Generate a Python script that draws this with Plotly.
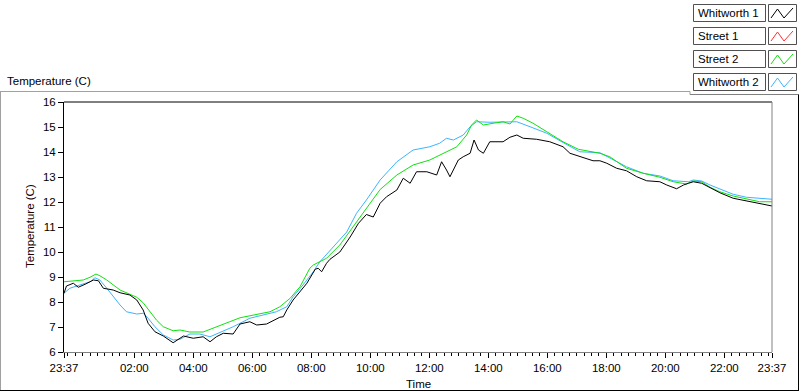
import plotly.graph_objects as go
from datetime import datetime, timedelta

# ---------------- data ----------------
series_names = ["Whitworth 1", "Street 1", "Street 2", "Whitworth 2"]
series_colors = ["#000000", "#ff3030", "#10e010", "#3cb4ff"]

whitworth1_time = ["23:37", "23:42", "23:56", "00:06", "00:20", "00:37", "00:47", "00:57", "01:17", "01:31",
                   "01:51", "02:05", "02:18", "02:28", "02:42", "02:59", "03:19", "03:40", "04:00", "04:20",
                   "04:34", "04:47", "05:01", "05:21", "05:35", "05:55", "06:09", "06:29", "06:56", "07:03",
                   "07:10", "07:23", "07:51", "08:08", "08:14", "08:21", "08:31", "08:38", "08:58", "09:19",
                   "09:36", "09:52", "10:06", "10:20", "10:33", "10:54", "11:07", "11:21", "11:34", "11:55",
                   "12:15", "12:25", "12:35", "12:42", "12:59", "13:09", "13:23", "13:31", "13:40", "13:50",
                   "14:03", "14:17", "14:30", "14:44", "14:58", "15:11", "15:38", "16:05", "16:32", "16:46",
                   "17:06", "17:33", "17:47", "18:01", "18:21", "18:41", "19:02", "19:22", "19:49", "20:03",
                   "20:23", "20:37", "20:47", "20:57", "21:14", "21:31", "21:51", "22:18", "22:45", "23:12",
                   "23:37"]
whitworth1_temp = [8.35, 8.64, 8.75, 8.59, 8.71, 8.88, 8.85, 8.55, 8.48, 8.37,
                   8.28, 8.08, 7.68, 7.15, 6.81, 6.64, 6.37, 6.64, 6.55, 6.61,
                   6.41, 6.61, 6.75, 6.72, 7.12, 7.21, 7.08, 7.12, 7.39, 7.41,
                   7.68, 8.08, 8.75, 9.31, 9.35, 9.21, 9.55, 9.71, 10.0, 10.6,
                   11.15, 11.5, 11.4, 11.95, 12.21, 12.48, 12.95, 12.75, 13.21, 13.21,
                   13.08, 13.61, 13.28, 13.01, 13.68, 13.81, 13.95, 14.48, 14.08, 13.95,
                   14.41, 14.41, 14.41, 14.59, 14.68, 14.55, 14.51, 14.41, 14.21, 13.95,
                   13.81, 13.65, 13.65, 13.55, 13.35, 13.25, 13.01, 12.85, 12.81, 12.68,
                   12.53, 12.68, 12.75, 12.81, 12.75, 12.59, 12.37, 12.15, 12.04, 11.92,
                   11.84]

street1_time = []
street1_temp = []

street2_time = ["23:37", "00:16", "00:30", "00:42", "00:50", "01:04", "01:31", "01:44", "02:05", "02:18",
                "02:32", "02:45", "02:59", "03:19", "03:33", "03:53", "04:20", "04:47", "05:14", "05:35",
                "06:02", "06:36", "06:56", "07:17", "07:37", "07:57", "08:04", "08:31", "08:58", "09:25",
                "09:46", "10:13", "10:20", "10:54", "11:27", "12:01", "12:28", "12:56", "13:16", "13:26",
                "13:36", "13:50", "14:10", "14:30", "14:44", "14:58", "15:11", "15:31", "15:59", "16:32",
                "17:03", "17:47", "18:07", "18:41", "19:15", "19:49", "20:16", "20:43", "20:57", "21:14",
                "21:31", "21:51", "22:18", "22:45", "23:12", "23:37"]
street2_temp = [8.81, 8.88, 8.99, 9.12, 9.05, 8.88, 8.48, 8.37, 8.19, 7.97,
                7.61, 7.28, 7.01, 6.85, 6.88, 6.80, 6.80, 6.99, 7.21, 7.37,
                7.48, 7.61, 7.81, 8.15, 8.61, 9.35, 9.48, 9.75, 10.28, 11.01,
                11.6, 12.3, 12.5, 13.08, 13.48, 13.68, 13.95, 14.21, 14.68, 15.08,
                15.28, 15.08, 15.15, 15.21, 15.12, 15.44, 15.35, 15.15, 14.81, 14.41,
                14.11, 13.95, 13.81, 13.35, 13.15, 12.99, 12.81, 12.72, 12.84, 12.81,
                12.59, 12.41, 12.24, 12.11, 12.01, 12.01]

whitworth2_time = ["23:37", "23:49", "00:09", "00:30", "00:40", "00:50", "01:04", "01:17", "01:31", "01:44",
                   "02:05", "02:18", "02:28", "02:42", "02:59", "03:19", "03:33", "03:53", "04:13", "04:34",
                   "04:54", "05:21", "05:55", "06:22", "06:49", "07:10", "07:23", "07:43", "08:04", "08:17",
                   "08:44", "09:12", "09:32", "09:52", "10:20", "10:54", "11:27", "12:01", "12:21", "12:35",
                   "12:49", "13:09", "13:23", "13:36", "14:03", "14:30", "14:58", "15:25", "15:59", "16:32",
                   "17:06", "17:47", "18:07", "18:41", "19:15", "19:49", "20:16", "20:47", "20:57", "21:14",
                   "21:31", "21:51", "22:18", "22:45", "23:12", "23:37"]
whitworth2_temp = [8.35, 8.55, 8.68, 8.81, 8.97, 8.88, 8.55, 8.21, 7.88, 7.61,
                   7.52, 7.55, 7.35, 7.01, 6.68, 6.48, 6.51, 6.72, 6.72, 6.61,
                   6.77, 7.01, 7.35, 7.48, 7.61, 7.81, 8.21, 8.68, 9.21, 9.6,
                   10.21, 10.8, 11.55, 12.08, 12.88, 13.61, 14.08, 14.21, 14.35, 14.55,
                   14.48, 14.68, 15.01, 15.21, 15.19, 15.21, 15.21, 15.01, 14.75, 14.38,
                   14.01, 13.97, 13.75, 13.41, 13.15, 13.04, 12.85, 12.81, 12.88, 12.84,
                   12.68, 12.51, 12.31, 12.19, 12.15, 12.11]

x_tick_labels = ["23:37", "02:00", "04:00", "06:00", "08:00", "10:00", "12:00",
                 "14:00", "16:00", "18:00", "20:00", "22:00", "23:37"]
y_ticks = [6, 7, 8, 9, 10, 11, 12, 13, 14, 15, 16]

# ---------------- helpers ----------------
BASE = datetime(2000, 1, 1)


def to_dt(times):
    out, day, prev = [], 0, None
    for t in times:
        h, m = map(int, t.split(":"))
        mins = h * 60 + m
        if prev is not None and mins < prev:
            day += 1
        prev = mins
        out.append(BASE + timedelta(days=day, minutes=mins))
    return out


tick_dts = to_dt(x_tick_labels)
x_start, x_end = tick_dts[0], tick_dts[-1]

# minor ticks every 15 min
minor_vals = []
t = BASE + timedelta(hours=23, minutes=45)
while t < x_end:
    minor_vals.append(t)
    t += timedelta(minutes=15)

W, H = 800, 392
L, R, T, B = 64, 772, 102, 352
FONT = "Liberation Sans"
FS = 11.5


def px(x):
    return (x - L) / (R - L)


def py(y):
    return (B - y) / (B - T)


fig = go.Figure()
data = [(whitworth1_time, whitworth1_temp), (street1_time, street1_temp),
        (street2_time, street2_temp), (whitworth2_time, whitworth2_temp)]
order = [1, 3, 2, 0]  # draw black on top
for i in order:
    tt, vv = data[i]
    fig.add_trace(go.Scatter(x=to_dt(tt), y=vv, mode="lines", name=series_names[i],
                             line=dict(color=series_colors[i], width=1), showlegend=False))

shapes = []
ann = []


def line(x0, y0, x1, y1, color, width=1):
    shapes.append(dict(type="line", xref="paper", yref="paper", x0=px(x0), y0=py(y0),
                       x1=px(x1), y1=py(y1), line=dict(color=color, width=width)))


# plot frame: top black, right gray
line(L, T, R, T, "#000000")
line(R, T, R, B, "#808080")
# outer panel frame
line(0, 91.5, 690, 91.5, "#a0a0a0")
line(690, 91.5, 690, 94.5, "#a0a0a0")
line(690, 94.5, 798.5, 94.5, "#808080")
line(0.5, 91.5, 0.5, 390.5, "#a0a0a0")
line(0, 390.5, 799, 390.5, "#000000")
line(798.5, 94.5, 798.5, 390.5, "#000000")

# legend
rows = [(4, 21), (27, 44), (50, 67), (73, 90)]
for i, (y0, y1) in enumerate(rows):
    shapes.append(dict(type="rect", xref="paper", yref="paper", x0=px(693.5), x1=px(765.5),
                       y0=py(y0 + 0.5), y1=py(y1 + 0.5), line=dict(color="#505050", width=1),
                       fillcolor="white"))
    shapes.append(dict(type="rect", xref="paper", yref="paper", x0=px(768.5), x1=px(796.5),
                       y0=py(y0 + 0.5), y1=py(y1 + 0.5), line=dict(color="#505050", width=1),
                       fillcolor="white"))
    yb, yt = y1 - 3, y0 + 5
    pts = [(771, yb), (777.5, yt), (784, yb), (793, yt - 1)]
    path = "M " + " L ".join(f"{px(a)},{py(b)}" for a, b in pts)
    shapes.append(dict(type="path", xref="paper", yref="paper", path=path,
                       line=dict(color=series_colors[i], width=1)))
    ann.append(dict(x=px(696), y=py((y0 + y1) / 2 + 0.5), xref="paper", yref="paper",
                    text=series_names[i], showarrow=False, xanchor="left", yanchor="middle",
                    font=dict(family=FONT, size=FS, color="#000000")))

# titles
ann.append(dict(x=px(5), y=py(81), xref="paper", yref="paper", text="Temperature (C)",
                showarrow=False, xanchor="left", yanchor="middle",
                font=dict(family=FONT, size=FS, color="#000000")))
ann.append(dict(x=px(30), y=py(226), xref="paper", yref="paper", text="Temperature (C)",
                showarrow=False, xanchor="center", yanchor="middle", textangle=-90,
                font=dict(family=FONT, size=FS, color="#200000")))
ann.append(dict(x=px(418), y=py(384), xref="paper", yref="paper", text="Time",
                showarrow=False, xanchor="center", yanchor="middle",
                font=dict(family=FONT, size=FS, color="#000000")))

fig.update_layout(
    width=W, height=H,
    margin=dict(l=L, r=W - R, t=T, b=H - B, pad=0),
    paper_bgcolor="white", plot_bgcolor="white",
    shapes=shapes, annotations=ann,
    font=dict(family=FONT, size=FS, color="#000000"),
    xaxis=dict(type="date", range=[x_start, x_end], tickmode="array", tickvals=tick_dts,
               ticktext=x_tick_labels, ticks="outside", ticklen=5, tickcolor="#000000",
               showgrid=False, zeroline=False, showline=True, linecolor="#808080", linewidth=1,
               tickfont=dict(family=FONT, size=FS, color="#000000"),
               minor=dict(tickmode="array", tickvals=minor_vals, ticks="outside", ticklen=3,
                          tickcolor="#000000", showgrid=False)),
    yaxis=dict(range=[6, 16], tickmode="array", tickvals=y_ticks, ticks="outside", ticklen=5,
               tickcolor="#000000", showgrid=False, zeroline=False, showline=True,
               linecolor="#000000", linewidth=1,
               tickfont=dict(family=FONT, size=FS, color="#000000")),
)

fig.write_html("out.html", config={"displayModeBar": False},
               post_script="document.body.style.margin='0';document.body.style.overflow='hidden';")
